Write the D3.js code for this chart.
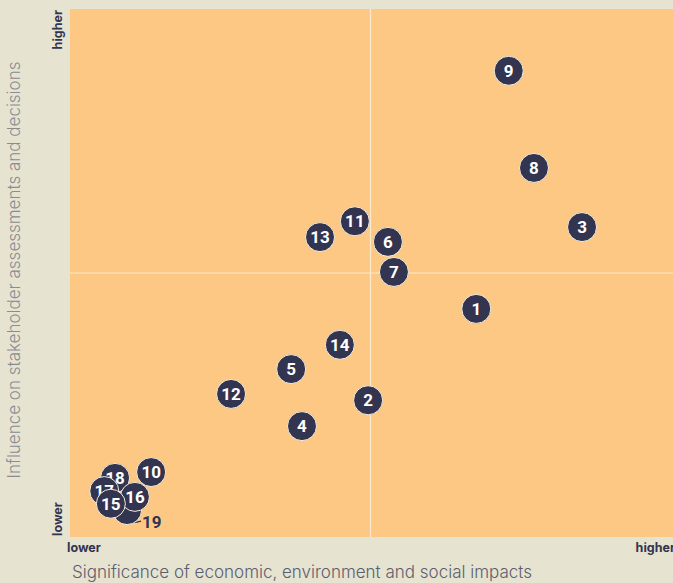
<!DOCTYPE html>
<html>
<head>
<meta charset="utf-8">
<script src="https://cdn.jsdelivr.net/npm/d3@7"></script>
<style>
  body { margin: 0; background: #e6e3d0; }
  svg { display: block; }
</style>
</head>
<body>
<svg id="chart" width="673" height="583"></svg>
<script>
// Topic ids and their positions (0-10 on each axis)
const ids = [1, 2, 3, 4, 5, 6, 7, 8, 9, 10, 11, 12, 13, 14, 15, 16, 17, 18, 19];
const impact = [6.76, 4.96, 8.52, 3.86, 3.68, 5.29, 5.39, 7.72, 7.30, 1.35, 4.74, 2.68, 4.16, 4.49, 0.68, 1.08, 0.57, 0.75, 0.95];
const influence = [4.32, 2.59, 5.87, 2.10, 3.18, 5.59, 5.02, 6.99, 8.83, 1.23, 5.98, 2.71, 5.68, 3.64, 0.63, 0.76, 0.87, 1.12, 0.51];
const xTitle = "Significance of economic, environment and social impacts";
const yTitle = "Influence on stakeholder assessments and decisions";

const width = 673;
const height = 583;
const plotLeft = 70, plotRight = 671, plotTop = 9, plotBottom = 537;

const svg = d3.select("#chart");

const xScale = d3.scaleLinear().domain([0, 10]).range([plotLeft, plotRight]);
const yScale = d3.scaleLinear().domain([0, 10]).range([plotBottom, plotTop]);

// Plot background
svg.append("rect")
  .attr("x", plotLeft)
  .attr("y", plotTop)
  .attr("width", width - plotLeft)
  .attr("height", plotBottom - plotTop)
  .attr("fill", "#fdc883");

// Quadrant lines
svg.append("line")
  .attr("x1", xScale(5)).attr("x2", xScale(5))
  .attr("y1", plotTop).attr("y2", plotBottom)
  .attr("stroke", "#fbe9cc").attr("stroke-width", 1.2);
svg.append("line")
  .attr("x1", plotLeft).attr("x2", width)
  .attr("y1", yScale(5)).attr("y2", yScale(5))
  .attr("stroke", "#fbe9cc").attr("stroke-width", 1.2);

// Axis end labels
const endLabel = { "font-family": "Inter, 'Noto Sans', sans-serif", "font-size": 12.5, "font-weight": 700, "fill": "#33344f" };
function applyAttrs(sel, obj) { Object.entries(obj).forEach(([k, v]) => sel.attr(k, v)); return sel; }

applyAttrs(svg.append("text"), endLabel)
  .attr("x", plotLeft - 3).attr("y", 552).text("lower");
applyAttrs(svg.append("text"), endLabel)
  .attr("x", width + 2).attr("y", 552).attr("text-anchor", "end").text("higher");
applyAttrs(svg.append("text"), endLabel)
  .attr("transform", `translate(${plotLeft - 8}, ${plotTop + 1}) rotate(-90)`)
  .attr("text-anchor", "end").text("higher");
applyAttrs(svg.append("text"), endLabel)
  .attr("transform", `translate(${plotLeft - 8}, ${plotBottom - 1}) rotate(-90)`)
  .text("lower");

// Axis titles
svg.append("text")
  .attr("x", 72).attr("y", 578)
  .attr("font-family", "Inter, 'Noto Sans', sans-serif")
  .attr("font-size", 17).attr("font-weight", 300)
  .attr("fill", "#5c5e70")
  .text(xTitle);
svg.append("text")
  .attr("transform", `translate(20, 270) rotate(-90)`)
  .attr("text-anchor", "middle")
  .attr("font-family", "Inter, 'Noto Sans', sans-serif")
  .attr("font-size", 17).attr("font-weight", 300)
  .attr("fill", "#8b8b92")
  .text(yTitle);

// Points, drawn so lower ids sit on top
const data = ids.map((id, i) => ({ id, x: impact[i], y: influence[i] }))
  .sort((a, b) => b.id - a.id);

// Leader for 19, which is hidden under the cluster
const p19 = data.find(d => d.id === 19);
const lx = xScale(p19.x), ly = yScale(p19.y);
svg.append("path")
  .attr("d", `M${lx + 3},${ly + 12} Q${lx + 7},${ly + 13} ${lx + 14},${ly + 11}`)
  .attr("fill", "none").attr("stroke", "#33344f").attr("stroke-width", 1.3);
svg.append("text")
  .attr("x", lx + 15).attr("y", ly + 18)
  .attr("font-family", "Roboto, 'Noto Sans', sans-serif")
  .attr("font-size", 17).attr("font-weight", 700)
  .attr("fill", "#33344f")
  .text("19");

const nodes = svg.selectAll(".pt")
  .data(data)
  .enter()
  .append("g")
  .attr("class", "pt")
  .attr("transform", d => `translate(${xScale(d.x)}, ${yScale(d.y)})`);

nodes.append("circle")
  .attr("r", 14.5)
  .attr("fill", "#33344f")
  .attr("stroke", "#f3eee0")
  .attr("stroke-width", 1);

nodes.filter(d => d.id !== 19).append("text")
  .attr("text-anchor", "middle")
  .attr("dy", "0.36em")
  .attr("font-family", "Roboto, 'Noto Sans', sans-serif")
  .attr("font-size", 17).attr("font-weight", 700)
  .attr("fill", "#ffffff")
  .text(d => d.id);
</script>
</body>
</html>
